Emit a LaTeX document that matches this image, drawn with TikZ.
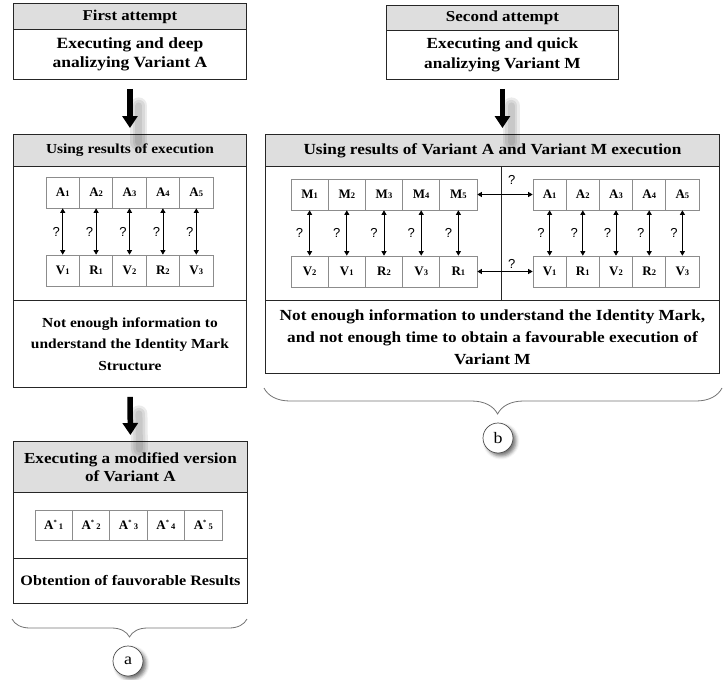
\documentclass[tikz,border=0pt]{standalone}
\usepackage{fontspec}
\setmainfont{Liberation Serif}[FakeStretch=1.12]
\newfontfamily\cellfont{Liberation Serif}
\newfontfamily\qfont{Liberation Sans}
\usetikzlibrary{arrows.meta,decorations.pathreplacing,shadows.blur,calc}

\newcommand\fsz[2]{\fontsize{#1}{#2}\selectfont}
\newcommand\csub[1]{{\fontsize{8.5}{9}\selectfont #1}}
\newcommand\cstar{\raisebox{4.5pt}{\fontsize{6.5}{6.5}\selectfont *}}

\definecolor{hdrgray}{gray}{0.87}
\definecolor{framegray}{gray}{0.15}
\definecolor{cellgray}{gray}{0.55}
\definecolor{bracegray}{gray}{0.45}

\tikzset{
  panel/.style={draw=framegray, line width=0.9pt, inner sep=0pt, align=center, anchor=north west, fill=white},
  hdr/.style={panel, fill=hdrgray},
  cell/.style={draw=cellgray, line width=0.7pt, minimum width=#1, minimum height=31pt, inner sep=0pt,
    font=\cellfont\bfseries\fsz{13}{14}},
  dbl/.style={line width=0.8pt, {Triangle[length=4.5pt,width=5pt]}-{Triangle[length=4.5pt,width=5pt]}},
  qmark/.style={font=\qfont\fsz{13}{13}, inner sep=0pt},
  bigarrow/.style={line width=5.5pt, -{Triangle[length=12pt,width=15pt]}, shorten <=9pt, shorten >=6pt},
  shade/.style={line width=#1, black, opacity=0.08, line cap=round},
  bracestyle/.style={decorate, decoration={brace, mirror, amplitude=#1}, draw=bracegray, line width=0.8pt},
  circ/.style={circle, draw=black!70, line width=0.7pt, fill=white, minimum size=30pt, inner sep=0pt,
    font=\fsz{16}{16}, blur shadow={shadow xshift=3pt, shadow yshift=-3pt, shadow blur radius=3.5pt, shadow opacity=55}}
}

\begin{document}
\begin{tikzpicture}[x=1pt, y=-1pt]
\useasboundingbox (0,0) rectangle (724,680);

% ---------- first attempt ----------
\node[hdr, minimum width=233pt, minimum height=26pt, font=\bfseries\fsz{15}{18}] (h1) at (13,3) {First attempt};
\node[panel, minimum width=233pt, minimum height=50pt, font=\bfseries\fsz{15.6}{19.3}] (b1) at (13,29) {Executing and deep\\analizying Variant A};

\node[hdr, minimum width=233pt, minimum height=32pt, font=\bfseries\fsz{13.75}{16}] (h2) at (13,134) {Using results of execution};
\node[panel, minimum width=233pt, minimum height=134pt] (b2) at (13,166) {};
\node[panel, minimum width=233pt, minimum height=87pt, font=\bfseries\fsz{13.8}{21.7}] (t2) at (13,300) {Not enough information to\\understand the Identity Mark\\Structure};

\node[hdr, minimum width=234pt, minimum height=51pt, font=\bfseries\fsz{15.3}{18.3}] (h3) at (13,441) {Executing a modified version\\of Variant A};
\node[panel, minimum width=234pt, minimum height=66pt] (b3) at (13,492) {};
\node[panel, minimum width=234pt, minimum height=45pt, font=\bfseries\fsz{14.4}{17}] (t3) at (13,558) {Obtention of fauvorable Results};

% shadows of the thick arrows
\foreach \w in {17,12,7} {
  \draw[shade=\w pt] ($(b1.south)+(9,26)$) -- ($(h2.north)+(9,8)$);
  \draw[shade=\w pt] ($(t2.south)+(9,26)$) -- ($(h3.north)+(9,8)$);
}
\draw[bigarrow] (b1.south) -- (h2.north);
\draw[bigarrow] (t2.south) -- (h3.north);

% grid: A versus V/R
\foreach \i in {1,...,5}
  \node[cell=33.4pt] (la\i) at ({29.3+33.4*\i},192.5) {A\csub{\i}};
\foreach \l/\d [count=\i] in {V/1,R/1,V/2,R/2,V/3}
  \node[cell=33.4pt] (lv\i) at ({29.3+33.4*\i},270.5) {\l\csub{\d}};
\foreach \i in {1,...,5}
  \draw[dbl] (la\i.south) -- node[qmark, left, inner sep=2.5pt] {?} (lv\i.north);

% grid: modified A
\foreach \i in {1,...,5}
  \node[cell=37.4pt, minimum height=30pt] (as\i) at ({16.3+37.4*\i},525) {A\cstar\,\csub{\i}};

\coordinate (braA1) at (12,619);
\coordinate (braA2) at (247,619);
\draw[bracestyle=18pt] (braA1) -- (braA2);
\node[circ] (ca) at (128,661) {a};

% ---------- second attempt ----------
\node[hdr, minimum width=232pt, minimum height=25pt, font=\bfseries\fsz{15.2}{18}] (h4) at (386,5) {Second attempt};
\node[panel, minimum width=232pt, minimum height=49pt, font=\bfseries\fsz{15.4}{19.3}] (b4) at (386,30) {Executing and quick\\analizying Variant M};

\node[hdr, minimum width=454pt, minimum height=32pt, font=\bfseries\fsz{15.4}{18}] (h5) at (265,134) {Using results of Variant A and Variant M execution};
\node[panel, minimum width=454pt, minimum height=134pt] (b5) at (265,166) {};
\node[panel, minimum width=454pt, minimum height=73pt, font=\bfseries\fsz{15.4}{22}] (t5) at (265,300) {Not enough information to understand the Identity Mark,\\and not enough time to obtain a favourable execution of\\Variant M};

\foreach \w in {17,12,7}
  \draw[shade=\w pt] ($(b4.south)+(9,26)$) -- ($(b4.south |- h5.north)+(9,8)$);
\draw[bigarrow] (b4.south) -- (b4.south |- h5.north);

\coordinate (dv) at (501,166);
\draw[draw=framegray, line width=0.9pt] (dv |- b5.north) -- (dv |- b5.south);

% grid: M versus V/R
\foreach \i in {1,...,5}
  \node[cell=37.2pt] (rm\i) at ({272.4+37.2*\i},194.5) {M\csub{\i}};
\foreach \l/\d [count=\i] in {V/2,V/1,R/2,V/3,R/1}
  \node[cell=37.2pt] (rmv\i) at ({272.4+37.2*\i},271.5) {\l\csub{\d}};
\foreach \i in {1,...,5}
  \draw[dbl] (rm\i.south) -- node[qmark, left, inner sep=6pt] {?} (rmv\i.north);

% grid: A versus V/R
\foreach \i in {1,...,5}
  \node[cell=33.2pt] (ra\i) at ({516.4+33.2*\i},194.5) {A\csub{\i}};
\foreach \l/\d [count=\i] in {V/1,R/1,V/2,R/2,V/3}
  \node[cell=33.2pt] (rv\i) at ({516.4+33.2*\i},271.5) {\l\csub{\d}};
\foreach \i in {1,...,5}
  \draw[dbl] (ra\i.south) -- node[qmark, left, inner sep=4.5pt] {?} (rv\i.north);

\draw[dbl] (rm5.east) -- node[qmark, pos=0.62, above=10pt] {?} (ra1.west);
\draw[dbl] (rmv5.east) -- node[qmark, pos=0.62, above=3pt] {?} (rv1.west);

\coordinate (braB1) at (264,388);
\coordinate (braB2) at (722,388);
\draw[bracestyle=26pt, decoration={aspect=0.51}] (braB1) -- (braB2);
\node[circ] (cb) at (498,438) {b};
\end{tikzpicture}
\end{document}
